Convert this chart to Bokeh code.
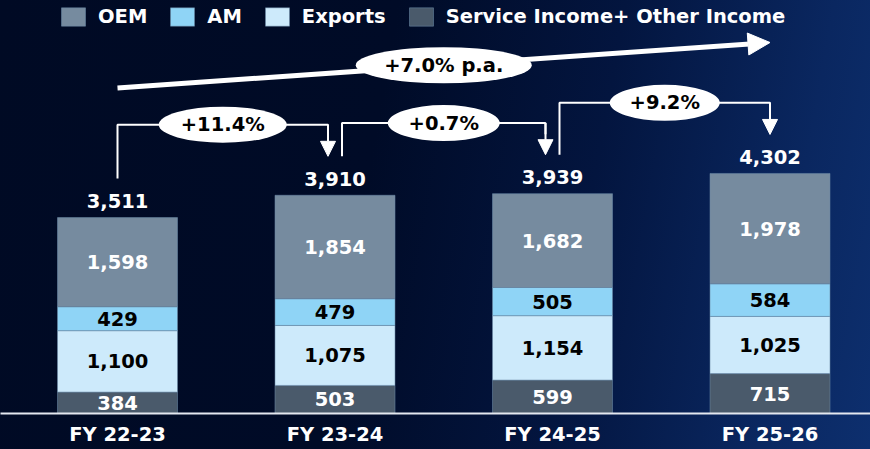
from bokeh.plotting import figure
from bokeh.models import (ColumnDataSource, Range1d, FixedTicker, Legend, LegendItem,
                          Arrow, NormalHead, GlobalInlineStyleSheet)
from bokeh.core.properties import value
from bokeh.embed import file_html
from bokeh.resources import INLINE

# ---------------- data ----------------
years = ["FY 22-23", "FY 23-24", "FY 24-25", "FY 25-26"]
oem = [1598, 1854, 1682, 1978]
am = [429, 479, 505, 584]
exports = [1100, 1075, 1154, 1025]
service = [384, 503, 599, 715]
totals = [3511, 3910, 3939, 4302]
yoy = ["+11.4%", "+0.7%", "+9.2%"]
cagr = "+7.0% p.a."

series_names = ["Service Income+ Other Income", "Exports", "AM", "OEM"]
series_keys = ["service", "exports", "am", "oem"]
colors = {"oem": "#768b9f", "am": "#8fd4f6", "exports": "#cdeafb", "service": "#4a5a6b"}
label_colors = {"oem": "white", "am": "black", "exports": "black", "service": "white"}

FONT = value("DejaVu Sans")
W, H = 870, 449
BOTTOM = 36
FRAME_H = H - BOTTOM
PX_X = 217.5          # px per category step
PX_Y = 0.0558         # px per unit
x0 = -117 / PX_X

p = figure(width=W, height=H, output_backend="svg", toolbar_location=None,
           title=None, y_axis_location=None,
           x_range=Range1d(x0, x0 + W / PX_X), y_range=Range1d(0, FRAME_H / PX_Y),
           min_border_left=0, min_border_right=0, min_border_top=0,
           min_border_bottom=BOTTOM)
p.background_fill_alpha = 0
p.border_fill_alpha = 0
p.outline_line_color = None
p.xgrid.visible = False
p.ygrid.visible = False
p.stylesheets = [GlobalInlineStyleSheet(css="""
html { height: 100%; overflow: hidden; background: linear-gradient(100deg, #000a24 0%, #000b27 42%, #03153f 66%, #0a2760 88%, #0d2f6e 100%); }
body { background: transparent; overflow: hidden; }
""")]

xs = list(range(len(years)))
data = dict(x=xs, oem=oem, am=am, exports=exports, service=service)
src = ColumnDataSource(data)

renderers = p.vbar_stack(series_keys, x="x", width=120 / PX_X, source=src,
                         color=[colors[k] for k in series_keys],
                         line_color="#6a88a6", line_alpha=0.55, line_width=1)

# segment labels
for key in series_keys:
    idx = series_keys.index(key)
    lx, ly, lt = [], [], []
    for i in xs:
        base = sum(data[k][i] for k in series_keys[:idx])
        v = data[key][i]
        lx.append(i)
        ly.append(base + v / 2)
        lt.append(f"{v:,}")
    p.text(x=lx, y=ly, text=lt, text_align="center", text_baseline="middle",
           text_font=FONT, text_font_style="bold", text_font_size="19.5px",
           text_color=label_colors[key])

# totals (centred ~16.5px above bar top)
LIFT = 16.5 / PX_Y
p.text(x=xs, y=[t + LIFT for t in totals], text=[f"{t:,}" for t in totals],
       text_align="center", text_baseline="middle",
       text_font=FONT, text_font_style="bold", text_font_size="19.5px",
       text_color="white")

# x axis
ax = p.xaxis[0]
ax.ticker = FixedTicker(ticks=xs)
ax.major_label_overrides = {i: y for i, y in zip(xs, years)}
ax.major_tick_line_color = None
ax.major_tick_out = 0
ax.major_tick_in = 0
ax.minor_tick_line_color = None
ax.minor_tick_out = 0
ax.axis_line_color = "#e4e8f0"
ax.axis_line_width = 2
ax.major_label_standoff = 9
ax.major_label_text_color = "white"
ax.major_label_text_font = "DejaVu Sans"
ax.major_label_text_font_style = "bold"
ax.major_label_text_font_size = "19.5px"

# year-on-year brackets
GAP = 39 / PX_Y
RISE = 1265
DX = 7 / PX_X
ell_w = [128, 112, 110]
for i in range(len(yoy)):
    xl = i + (DX if i > 0 else 0)
    xr = i + 1 - (DX if i + 1 < len(years) - 1 else 0)
    yh = max(totals[i], totals[i + 1]) + RISE
    p.line(x=[xl, xl, xr, xr], y=[totals[i] + GAP, yh, yh, yh - 200],
           line_color="white", line_width=2)
    p.add_layout(Arrow(x_start=xr, y_start=yh, x_end=xr, y_end=totals[i + 1] + GAP,
                       line_color="white", line_width=2, level="underlay",
                       end=NormalHead(size=15, fill_color="white", line_color="white")))
    xm = (xl + xr) / 2
    p.ellipse(x=[xm], y=[yh], width=[ell_w[i]], height=[36],
              width_units="screen", height_units="screen",
              fill_color="white", line_color=None)
    p.text(x=[xm], y=[yh], text=[yoy[i]], text_align="center", text_baseline="middle",
           text_font=FONT, text_font_style="bold", text_font_size="19.5px",
           text_color="black")

# CAGR arrow
ys0, ys1 = 5833, 6649
p.add_layout(Arrow(x_start=0, y_start=ys0, x_end=3, y_end=ys1,
                   line_color="white", line_width=5, level="underlay",
                   end=NormalHead(size=22, fill_color="white", line_color="white")))
cx = 1.5
cy = ys0 + (ys1 - ys0) * cx / 3
p.ellipse(x=[cx], y=[cy], width=[176], height=[36],
          width_units="screen", height_units="screen",
          fill_color="white", line_color=None)
p.text(x=[cx], y=[cy], text=[cagr], text_align="center", text_baseline="middle",
       text_font=FONT, text_font_style="bold", text_font_size="19.5px",
       text_color="black")

# legend
name_map = dict(zip(series_keys, series_names))
order = ["oem", "am", "exports", "service"]
items = [LegendItem(label=name_map[k], renderers=[renderers[series_keys.index(k)]]) for k in order]
legend = Legend(items=items, orientation="horizontal", location=(58, FRAME_H - 28),
                glyph_width=30, glyph_height=23, label_standoff=10, spacing=20,
                padding=0, margin=0, border_line_alpha=0, background_fill_alpha=0,
                label_text_color="white", label_text_font="DejaVu Sans",
                label_text_font_style="bold", label_text_font_size="19.5px")
p.add_layout(legend)

open("out.html", "w").write(file_html(p, INLINE))
